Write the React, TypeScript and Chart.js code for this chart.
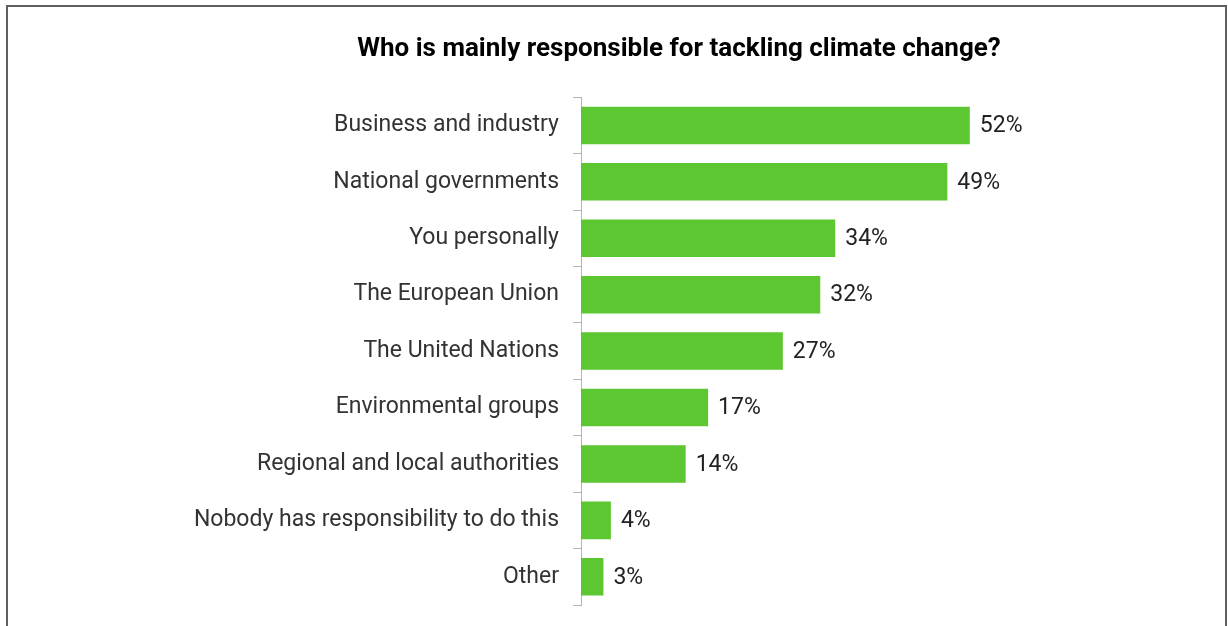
import React, { useEffect, useRef } from "react";
import { Chart, registerables } from "chart.js";

Chart.register(...registerables);

const TITLE = "Who is mainly responsible for tackling climate change?";
const categories = [
  "Business and industry",
  "National governments",
  "You personally",
  "The European Union",
  "The United Nations",
  "Environmental groups",
  "Regional and local authorities",
  "Nobody has responsibility to do this",
  "Other",
];
const values = [52, 49, 34, 32, 27, 17, 14, 4, 3];
const valueLabels = ["52%", "49%", "34%", "32%", "27%", "17%", "14%", "4%", "3%"];

const BAR_COLOR = "#5dc731";
const FONT = "Roboto, 'Noto Sans', sans-serif";

const valueLabelPlugin = {
  id: "valueLabels",
  afterDatasetsDraw(chart: any) {
    const ctx = chart.ctx;
    const meta = chart.getDatasetMeta(0);
    ctx.save();
    ctx.font = `23px ${FONT}`;
    ctx.fillStyle = "#222222";
    ctx.textAlign = "left";
    ctx.textBaseline = "middle";
    meta.data.forEach((el: any, i: number) => {
      ctx.fillText(valueLabels[i], el.x + 10, el.y + 1);
    });
    ctx.restore();
  },
};

export default function App() {
  const ref = useRef<HTMLCanvasElement | null>(null);

  useEffect(() => {
    if (!ref.current) return;
    const chart = new Chart(ref.current, {
      type: "bar",
      data: {
        labels: categories,
        datasets: [
          {
            data: values,
            backgroundColor: BAR_COLOR,
            borderWidth: 0,
            categoryPercentage: 1,
            barPercentage: 0.665,
          },
        ],
      },
      options: {
        indexAxis: "y",
        animation: false,
        responsive: false,
        maintainAspectRatio: false,
        layout: { padding: { left: 0, right: 0, top: 0, bottom: 21 } },
        plugins: {
          legend: { display: false },
          tooltip: { enabled: false },
          title: {
            display: true,
            text: TITLE,
            color: "#000000",
            font: { family: FONT, size: 26, weight: "bold" },
            padding: { top: 27, bottom: 32 },
          },
        },
        scales: {
          x: {
            display: false,
            min: 0,
            max: 86,
          },
          y: {
            afterFit(scale: any) {
              scale.width = 447;
              scale.paddingTop = 0;
              scale.paddingBottom = 0;
            },
            grid: {
              drawOnChartArea: false,
              drawTicks: true,
              tickLength: 8,
              color: "#b4b4b4",
            },
            border: { display: true, color: "#b4b4b4", width: 1 },
            ticks: {
              color: "#333333",
              padding: 14,
              font: { family: FONT, size: 23 },
            },
          },
        },
      },
      plugins: [valueLabelPlugin],
    });
    return () => chart.destroy();
  }, []);

  return (
    <div>
      <div
        style={{
          position: "absolute",
          left: 6,
          top: 5,
          width: 1217,
          height: 619,
          borderTop: "2px solid #5f5f5f",
          borderLeft: "2px solid #5f5f5f",
          borderRight: "2px solid #5f5f5f",
          borderBottom: "none",
        }}
      />
      <canvas
        ref={ref}
        width={1090}
        height={619}
        style={{ position: "absolute", left: 134, top: 7, width: 1090, height: 619 }}
      />
    </div>
  );
}
